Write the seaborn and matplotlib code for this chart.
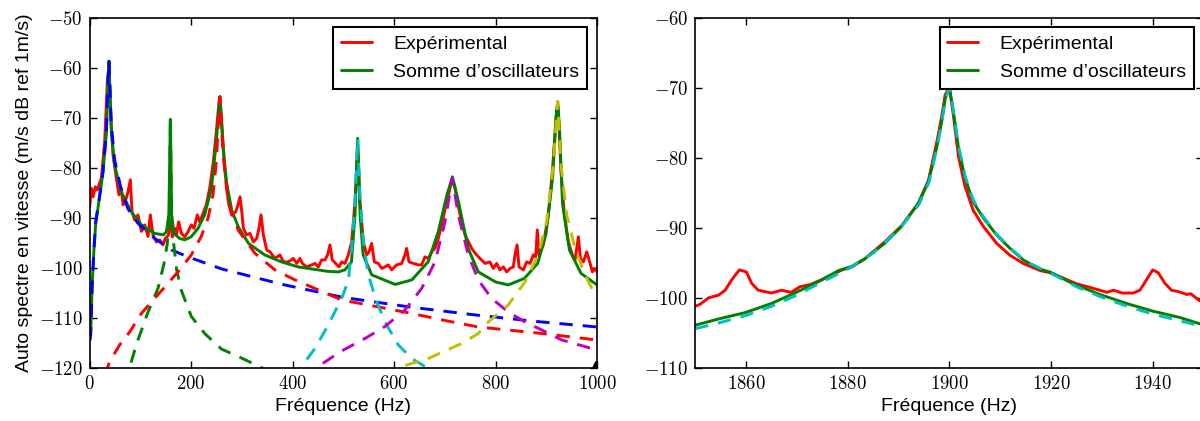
import matplotlib
matplotlib.use("Agg")
import matplotlib.pyplot as plt
import seaborn as sns
from matplotlib.ticker import FuncFormatter, MultipleLocator

# ---------------- Left panel data (0-1000 Hz) ----------------
exp_f = [0, 3.2, 6.5, 11, 15, 18.3, 23, 29.5, 34.8, 38, 41.3, 45.9, 52.5, 57.7, 62.4, 65.7, 70.2,
         75.5, 80.1, 83.4, 88.6, 95.2, 101.8, 108.4, 115, 119.5, 124.8, 131.4, 138, 144.5, 149.1,
         155, 159.5, 163, 167.5, 170.8, 175.4, 180.6, 187.2, 193.7, 200.3, 205.6, 212.2, 216.8,
         223.3, 229.9, 236.5, 243, 249.6, 254.9, 256.8, 261.4, 266.7, 273.3, 279.8, 287.7, 292,
         296.3, 300, 303, 309.4, 316, 322.6, 329.1, 333.7, 337.7, 342.3, 348.8, 355.4, 365.2,
         375.1, 381.7, 391.5, 401.4, 408, 414.5, 419.1, 427.7, 437.5, 444.1, 450.7, 457.2, 463.8,
         469, 473.6, 478.2, 484.8, 491.4, 496.7, 503.2, 509.8, 516.4, 523, 528.2, 532.8, 539.4,
         546, 550.6, 555.8, 561.1, 569, 575.5, 582.1, 588.7, 595.3, 605.1, 615, 621.5, 624.8,
         629.4, 637.9, 647.8, 654.3, 660.9, 667.5, 674.1, 680.6, 687.2, 695.1, 703.6, 710.2,
         714.8, 720.1, 730, 739.8, 753, 761, 769.3, 779.2, 788.9, 795.6, 802.2, 808.8, 815.4,
         822, 828.5, 835.1, 838.4, 842.4, 846.3, 854.9, 861.4, 868, 874.5, 879, 882.4, 885.6,
         894.2, 904, 911.9, 917.2, 920.5, 922.5, 925.1, 929.1, 935.7, 943.6, 951.5, 956.8, 960,
         963.3, 967.3, 973.2, 979.8, 986.4, 991, 995, 1000]
exp_v = [-87.8, -84.1, -85.8, -83.8, -84.4, -83.4, -82.1, -74.8, -62.8, -59.5, -69.4, -77.4, -82.1,
         -85.4, -84.1, -87.4, -86.7, -84.8, -82.4, -88.8, -90.4, -89.4, -92.7, -91.4, -93.7, -89.4,
         -93.4, -94.8, -94.4, -95.4, -94.1, -93.5, -90.5, -93.8, -92.1, -93.4, -90.8, -93.1, -93.8,
         -92.8, -91.4, -92.1, -89.4, -90.8, -89.2, -87.4, -84.1, -79.4, -72.8, -66.8, -65.8, -72.8,
         -80.8, -86.8, -89.4, -88.8, -87.5, -85.8, -89.0, -92.1, -93.4, -93.1, -94.8, -94.1, -92.1,
         -89.4, -93.4, -96.4, -96.8, -98.1, -97.4, -98.8, -98.8, -98.1, -99.1, -98.1, -99.1, -99.8,
         -99.4, -99.1, -99.8, -98.4, -98.4, -97.4, -95.4, -98.4, -99.1, -99.8, -98.8, -99.1, -97.4,
         -94.8, -86.8, -75.5, -86.8, -94.8, -97.4, -96.8, -95.1, -98.8, -99.1, -100.1, -99.8, -99.4,
         -100.4, -99.4, -99.1, -97.4, -96.1, -98.8, -99.1, -99.4, -99.4, -97.8, -98.1, -96.8, -96.1,
         -94.1, -90.8, -86.8, -84.1, -82.1, -84.1, -89.4, -93.4, -96.1, -97.2, -98.1, -99.1, -98.8,
         -100.1, -99.1, -100.4, -99.8, -100.8, -100.1, -99.8, -97.4, -95.4, -99.8, -100.4, -98.8,
         -99.1, -97.4, -97.8, -92.4, -97.4, -95.4, -89.4, -80.8, -73.4, -68.8, -67.3, -71.5, -80.8,
         -89.4, -94.8, -97.4, -98.4, -96.1, -93.8, -98.1, -98.8, -96.8, -99.1, -100.8, -100.1, -100.8]

sum_f = [0.5, 2, 5, 8.5, 12, 20, 26, 33, 36, 38, 42.6, 49, 62, 82, 102, 128, 145, 151, 156, 159,
         161.6, 166, 177, 187, 200, 213.5, 226.6, 240, 249.6, 256.5, 263.4, 270, 280, 293, 313, 345,
         378, 411, 444, 470, 490, 503, 516, 523, 528.2, 533, 539, 556, 602, 635, 667, 687, 704, 715,
         727, 746, 766, 800, 825, 857, 883, 899.5, 912.6, 919, 922.5, 926, 932, 945.5, 968.5, 1000]
sum_v = [-114, -113, -103, -96, -91, -85.5, -81, -73, -63, -58.7, -72.5, -79.4, -84.8, -88.8, -91.4,
         -93.1, -93.4, -92.8, -89.4, -70.3, -89.4, -93.1, -94.1, -94.4, -93.8, -92.1, -89.4, -84.1,
         -74.8, -65.8, -76.5, -83.1, -88.5, -91.8, -95.1, -97.4, -98.8, -99.8, -100.3, -100.7, -100.8,
         -100.4, -98.8, -89.4, -74.1, -89.4, -97.4, -101.4, -103.3, -102.4, -98.8, -92.8, -85.5, -81.8,
         -86.8, -96.1, -100.8, -102.8, -103.4, -102.1, -99.1, -93.2, -81.9, -70.0, -66.8, -72.0,
         -87.1, -96.4, -101.1, -103.4]

osc1_f = [0.5, 1.9, 5.2, 8.5, 11.8, 19.6, 26.2, 32.8, 36, 38, 42.6, 49.2, 62.3, 75.5, 95.2, 128,
          161, 194, 260, 380, 500, 630, 760, 880, 1000]
osc1_v = [-114.5, -113.4, -102.8, -96.1, -90.8, -85.5, -80.8, -72.8, -62.8, -58.7, -71.5, -78.5,
          -84.4, -88.2, -91.1, -94.1, -96.4, -97.8, -100.2, -103.3, -105.9, -107.8, -109.4, -110.7,
          -111.8]

osc2_f = [60, 75.5, 95.2, 115, 134.6, 146.5, 153, 157, 159, 161.6, 165.5, 171.4, 180.6, 200.3,
          226.6, 259.5, 299, 332, 350, 400]
osc2_v = [-128, -120.8, -114.4, -108.8, -104.1, -99.1, -95.1, -89.8, -70.3, -89.8, -95.1, -100.4,
          -104.5, -109.7, -113.1, -116.2, -118.0, -119.6, -120.5, -122.0]

osc3_f = [30, 39.4, 59, 78.8, 101.8, 128, 154.3, 177.3, 200.3, 220, 233.2, 243, 249.6, 256.5,
          263.4, 273.2, 293, 325.8, 365.2, 404.6, 444, 496.6, 569, 634.6, 700, 766, 891, 1000]
osc3_v = [-121.5, -118.7, -115.4, -112.8, -109.1, -106.1, -103.1, -100.4, -97.4, -93.7, -90.1,
          -85.4, -78.8, -65.8, -77.8, -87.1, -92.5, -97.1, -100.4, -102.4, -104.1, -106.4, -107.8,
          -109.1, -110.5, -111.8, -113.1, -114.4]

osc4_f = [400, 414.5, 444, 470.2, 496.6, 510, 516.4, 523, 528.2, 532.8, 539.4, 549.2, 565.7, 585.4,
          608.4, 634.6, 667.5, 690]
osc4_v = [-122, -120.1, -116.1, -111.4, -106.1, -102.5, -96.1, -86.8, -74.1, -85.4, -94.8, -101.4,
          -106.8, -111.4, -115.4, -118.1, -120.1, -121.5]

osc5_f = [420, 444, 496.6, 542.7, 582.1, 621.5, 654.4, 680.7, 700.4, 714.8, 726.6, 746.3, 766,
          792.2, 825.1, 858, 891, 930.4, 1000]
osc5_v = [-121.5, -120.1, -116.6, -114.1, -111.7, -108.4, -104.1, -98.8, -90.8, -82.1, -89.4,
          -97.4, -102.4, -106.1, -108.8, -110.8, -112.4, -114.4, -116.4]

osc6_f = [580, 601.8, 667.5, 733.2, 766, 785.8, 825.1, 858, 884.3, 900.7, 913.9, 922.5, 929,
          940.3, 956.7, 976.4, 1000]
osc6_v = [-121.3, -120.1, -118.1, -115.1, -113.1, -110.8, -107.4, -102.8, -97.4, -90.8, -79.4,
          -66.8, -79.4, -89.4, -96.1, -101.4, -106.1]

osc7_f = [988, 1000, 1010]
osc7_v = [-121.2, -118.6, -116.5]

# ---------------- Right panel data (1850-1950 Hz) ----------------
exp2_f = [1850, 1851, 1852.6, 1854.6, 1855.9, 1857.2, 1858.7, 1860.1, 1861.1, 1862.4, 1865, 1867,
          1868.9, 1870.6, 1872.6, 1874.9, 1876.9, 1878.9, 1880.8, 1883.4, 1887.3, 1890.6, 1893.9,
          1895.9, 1897.5, 1898.5, 1899.2, 1900, 1900.8, 1901.8, 1903.1, 1904.7, 1906.7, 1909.3,
          1911.9, 1914.6, 1917.9, 1919.8, 1922.5, 1925.1, 1927.7, 1931, 1932.3, 1934, 1936.2,
          1937.5, 1938.8, 1940, 1941.1, 1942.4, 1943.7, 1945.1, 1946.7, 1947.5, 1948.7, 1949.3, 1952]
exp2_v = [-101.2, -100.9, -100.0, -99.6, -98.9, -97.4, -96.0, -96.3, -97.9, -98.9, -99.3, -98.9,
          -99.2, -98.4, -98.1, -97.4, -96.7, -96.0, -95.6, -94.4, -92.0, -89.7, -86.5, -83.2, -77.9,
          -74.1, -71.0, -69.9, -73.9, -79.8, -84.1, -87.5, -89.8, -92.2, -93.9, -95.1, -96.1, -96.4,
          -97.2, -98.0, -98.5, -99.2, -98.9, -99.3, -99.3, -98.9, -97.4, -96.0, -96.4, -97.9, -98.9,
          -99.1, -99.5, -99.4, -100.1, -100.4, -100.8]

sum2_f = [1850, 1854.6, 1859.8, 1865, 1869.6, 1874.2, 1878.2, 1880.8, 1883.4, 1887.3, 1890.6,
          1893.9, 1895.9, 1897.5, 1898.5, 1899.2, 1900, 1900.8, 1901.8, 1903.1, 1904.7, 1906.7,
          1909.3, 1911.9, 1914.6, 1917.9, 1919.8, 1924.4, 1929.6, 1934.9, 1940.1, 1945.4, 1949.3, 1952]
sum2_v = [-103.9, -103.0, -102.1, -100.8, -99.3, -97.7, -96.1, -95.5, -94.4, -92.2, -89.8, -86.5,
          -83.4, -78.6, -74.8, -71.5, -69.9, -73.4, -78.6, -82.9, -86.3, -88.6, -91.0, -92.9, -94.6,
          -95.9, -96.3, -98.0, -99.5, -100.8, -101.9, -102.8, -103.7, -104.1]

osc8_f = [1850, 1855, 1860, 1865, 1870, 1875, 1880, 1885, 1890, 1894, 1896, 1897.5, 1898.5, 1899.2,
          1900, 1900.8, 1901.8, 1903.1, 1904.7, 1906.7, 1909.3, 1912, 1915, 1920, 1925, 1930, 1935,
          1940, 1945, 1950, 1952]
osc8_v = [-104.4, -103.5, -102.5, -101.2, -99.6, -97.7, -95.9, -93.6, -90.3, -86.7, -83.5, -78.8,
          -75.0, -71.7, -70.0, -73.2, -78.3, -82.6, -86.0, -88.4, -90.9, -92.9, -94.8, -96.5, -98.4,
          -99.9, -101.2, -102.3, -103.2, -104.1, -104.5]

legend_labels = ["Expérimental", "Somme d\u2019oscillateurs"]
xlabel = "Fréquence (Hz)"
ylabel = "Auto spectre en vitesse (m/s dB ref 1m/s)"

sns.set_theme(style="white")
plt.rcParams.update({
    "font.family": ["Liberation Sans", "DejaVu Sans"],
    "mathtext.fontset": "cm",
    "axes.edgecolor": "black",
    "axes.linewidth": 1.2,
    "axes.facecolor": "white",
    "xtick.direction": "in", "ytick.direction": "in",
    "xtick.top": True, "xtick.bottom": True,
    "ytick.left": True, "ytick.right": True,
    "xtick.major.size": 5, "ytick.major.size": 5,
    "xtick.major.width": 1, "ytick.major.width": 1,
    "xtick.major.pad": 5, "ytick.major.pad": 5,
    "xtick.color": "black", "ytick.color": "black",
    "xtick.labelsize": 13.5, "ytick.labelsize": 13.5,
    "axes.labelsize": 14, "axes.labelcolor": "black",
    "legend.fontsize": 14, "text.color": "black",
})

fig = plt.figure(figsize=(12, 4.21), dpi=100)
ax1 = fig.add_axes([0.07475, 0.1259, 0.42275, 0.8321])
ax2 = fig.add_axes([0.5793, 0.1259, 0.4236, 0.8321])

LW = 2.1
DASH = (0, (4.6, 3.4))
common = dict(estimator=None, sort=False, legend=False)

sns.lineplot(x=exp_f, y=exp_v, ax=ax1, color="red", lw=LW, **common)
sns.lineplot(x=sum_f, y=sum_v, ax=ax1, color="green", lw=LW, **common)
for fs, vs, c in [(osc1_f, osc1_v, "blue"), (osc2_f, osc2_v, "green"), (osc3_f, osc3_v, "red"),
                  (osc4_f, osc4_v, (0, 0.75, 0.75)), (osc5_f, osc5_v, (0.75, 0, 0.75)),
                  (osc6_f, osc6_v, (0.75, 0.75, 0)), (osc7_f, osc7_v, "black")]:
    sns.lineplot(x=fs, y=vs, ax=ax1, color=c, lw=LW, linestyle=DASH, **common)

sns.lineplot(x=exp2_f, y=exp2_v, ax=ax2, color="red", lw=LW, **common)
sns.lineplot(x=sum2_f, y=sum2_v, ax=ax2, color="green", lw=LW, **common)
sns.lineplot(x=osc8_f, y=osc8_v, ax=ax2, color=(0, 0.75, 0.75), lw=LW, linestyle=DASH, **common)

fmt = FuncFormatter(lambda val, pos: r"$%d$" % round(val))
for ax, xl, yl, xstep in [(ax1, (0, 1000), (-120, -50), 200), (ax2, (1850, 1950), (-110, -60), 20)]:
    ax.set_xlim(*xl)
    ax.set_ylim(*yl)
    ax.xaxis.set_major_locator(MultipleLocator(xstep))
    ax.yaxis.set_major_locator(MultipleLocator(10))
    ax.xaxis.set_major_formatter(fmt)
    ax.yaxis.set_major_formatter(fmt)
    ax.set_xlabel(xlabel)
    for s in ax.spines.values():
        s.set_visible(True)
        s.set_color("black")
    leg = ax.legend(handles=ax.lines[:2], labels=legend_labels, loc="upper right",
                    frameon=True, fancybox=False, framealpha=1, edgecolor="black",
                    handlelength=1.6, handletextpad=1.1, borderpad=0.4, labelspacing=0.55)
    leg.get_frame().set_linewidth(1.5)
ax1.set_ylabel(ylabel)
ax2.set_ylabel("")

fig.savefig("out.png", dpi=100)
